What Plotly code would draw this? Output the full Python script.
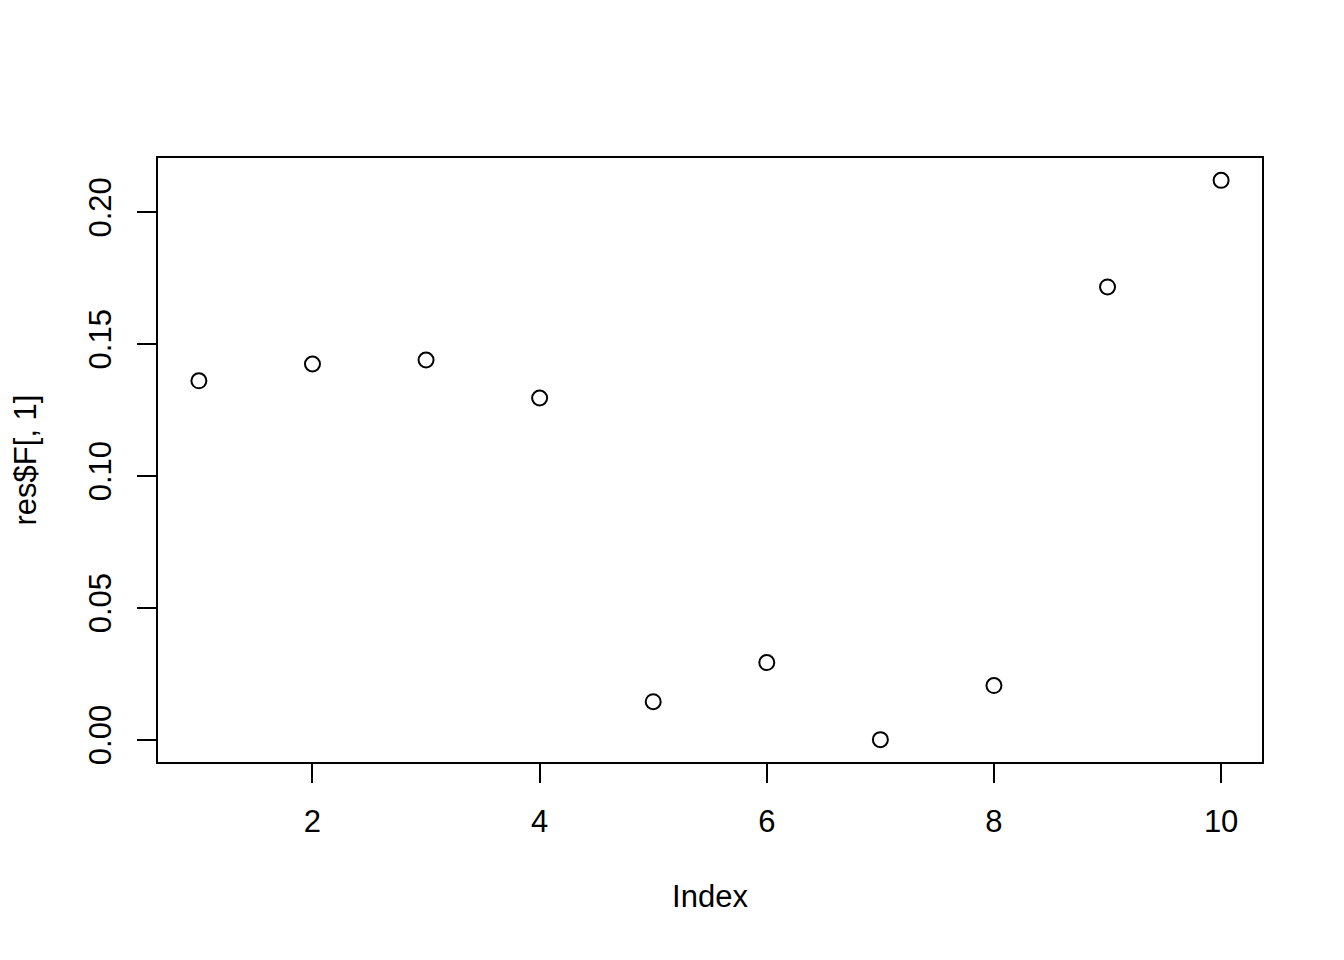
import plotly.graph_objects as go

index = list(range(1, 11))
values = [0.1360, 0.1424, 0.1439, 0.1295, 0.0144, 0.0292, 0.0000, 0.0205, 0.1716, 0.2120]

x_ticks = [2, 4, 6, 8, 10]
y_ticks = [0.00, 0.05, 0.10, 0.15, 0.20]
y_ticklabels = ["0.00", "0.05", "0.10", "0.15", "0.20"]

def r_range(v):
    lo, hi = min(v), max(v)
    pad = (hi - lo) * 0.04
    return [lo - pad, hi + pad]

FONT = "Liberation Sans, Arial, Helvetica, sans-serif"

fig = go.Figure()
fig.add_trace(go.Scatter(
    x=index, y=values, mode="markers",
    marker=dict(symbol="circle-open", size=15, color="black",
                line=dict(width=2, color="black")),
    showlegend=False, hoverinfo="x+y",
))

axis_common = dict(
    showline=True, linecolor="black", linewidth=2, mirror=True,
    ticks="outside", ticklen=19, tickwidth=2, tickcolor="black",
    showgrid=False, zeroline=False,
    tickfont=dict(family=FONT, size=31, color="black"),
)

fig.update_xaxes(
    range=r_range(index), tickmode="array", tickvals=x_ticks,
    ticktext=[str(t) for t in x_ticks],
    ticklabelstandoff=12,
    title=dict(text="Index", font=dict(family=FONT, size=31, color="black"), standoff=47),
    **axis_common,
)
fig.update_yaxes(
    range=r_range(values), tickmode="array", tickvals=y_ticks,
    ticktext=y_ticklabels, tickangle=-90,
    ticklabelstandoff=14,
    title=dict(text="res$F[, 1]", font=dict(family=FONT, size=31, color="black"), standoff=37),
    **axis_common,
)

fig.update_layout(
    width=1344, height=960,
    margin=dict(l=150, r=90, t=150, b=206, autoexpand=False),
    paper_bgcolor="white", plot_bgcolor="white",
    font=dict(family=FONT, size=31, color="black"),
)

fig.write_html("out.html")
